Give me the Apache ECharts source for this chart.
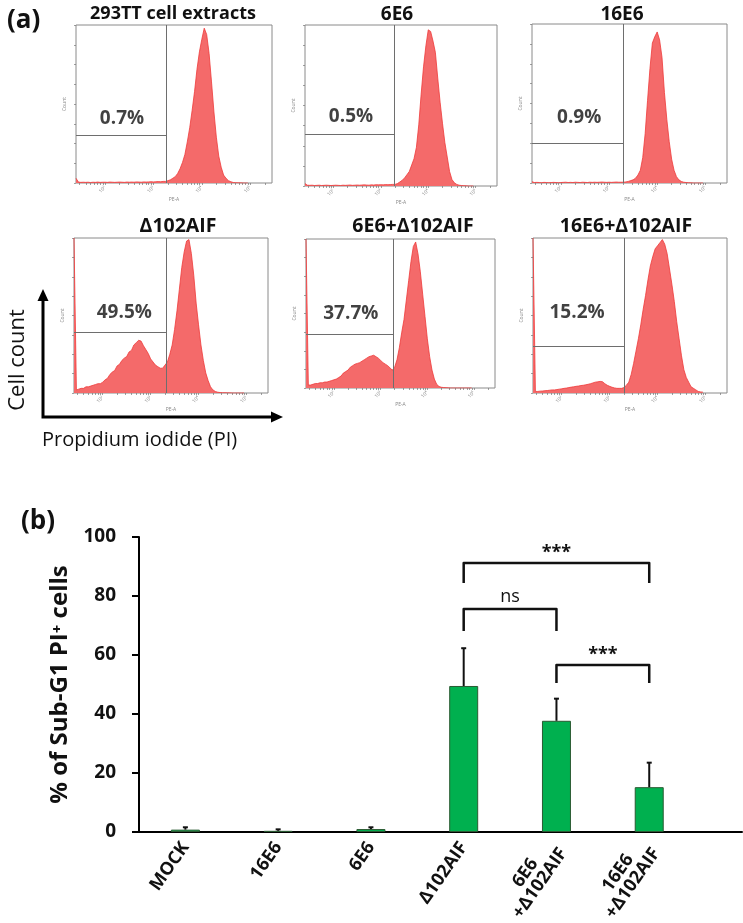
<!DOCTYPE html>
<html><head><meta charset="utf-8">
<script src="https://cdn.jsdelivr.net/npm/echarts@6/dist/echarts.min.js"></script>
<style>html,body{margin:0;padding:0;background:#fff}#c{width:743px;height:923px}</style>
</head><body><div id="c"></div><script>
// ---------- Panel (a): flow cytometry histograms ----------
const histTitles = ['293TT cell extracts', '6E6', '16E6', 'Δ102AIF', '6E6+Δ102AIF', '16E6+Δ102AIF'];
const histPercentLabels = ['0.7%', '0.5%', '0.9%', '49.5%', '37.7%', '15.2%'];
// bin centres, log10(PE-A)
const binX = [1.40,1.45,1.50,1.55,1.60,1.65,1.70,1.75,1.80,1.85,1.90,1.95,
  2.00,2.05,2.10,2.15,2.20,2.25,2.30,2.35,2.40,2.45,2.50,2.55,2.60,2.65,2.70,2.75,2.80,2.85,2.90,2.95,
  3.00,3.05,3.10,3.15,3.20,3.25,3.30,3.35,3.40,3.45,3.50,3.55,3.60,3.65,3.70,3.75,3.80,3.85,3.90,3.95,
  4.00,4.05,4.10,4.15,4.20,4.25,4.30,4.35,4.40,4.45,4.50,4.55,4.60,4.65,4.70,4.75,4.80,4.85,4.90,4.95];
// counts, % of panel height
const hist293TT = [3,0.6,0.4,0.5,0.4,0.5,0.3,0.5,0.4,0.6,0.4,0.5,
  0.5,0.4,0.6,0.5,0.4,0.5,0.6,0.5,0.4,0.6,0.5,0.6,0.5,0.7,0.6,0.5,0.7,0.6,0.7,0.8,
  0.7,0.8,0.9,0.8,1.0,1,1.5,2,3,4,6,9,13,18,26,35,46,58,72,83,
  91,98,94,82,64,45,29,17,10,5,3,1.5,0.8,0.3,0.2,0.1,0.1,0,0,0];
const hist6E6 = [1.5,0.5,0.4,0.5,0.3,0.4,0.5,0.3,0.4,0.5,0.4,0.3,
  0.4,0.5,0.4,0.3,0.5,0.4,0.5,0.6,0.4,0.5,0.6,0.5,0.6,0.7,0.6,0.5,0.7,0.6,0.8,0.7,
  0.8,0.7,0.9,0.8,0.9,1.0,1,1.5,2.5,3.5,5,7,9,13,17,24,38,57,74,87,
  97,96,90,83,67,52,39,27,18,9,4,2,1,0.5,0.3,0.2,0.1,0,0,0];
const hist16E6 = [0.8,0.3,0.4,0.3,0.2,0.4,0.3,0.2,0.3,0.4,0.3,0.2,
  0.3,0.4,0.5,0.3,0.4,0.3,0.5,0.4,0.3,0.5,0.4,0.3,0.5,0.4,0.5,0.4,0.5,0.6,0.5,0.4,
  0.5,0.4,0.5,0.6,0.5,0.5,0.5,0.7,1,1.5,2,3,5,8,16,31,52,72,88,92,
  95,90,79,57,40,26,15,8,4,2,1,0.5,0.3,0.2,0.1,0,0,0,0,0];
const histD102 = [100,2,2.5,3,3,4,4,4.5,5,5.5,6,6,
  7,8.5,9.5,12,13.5,14.5,17.5,18.5,21,22.5,23.5,26.5,27.5,31,32.5,34,33.5,30.5,28,25.5,
  22,20,18,17,16,16,18,20,25,31,41,53,67,81,91,98,99,90,76,58,
  44,31,21,13,8,4,2,1,0.5,0.3,0.2,0.2,0.1,0.1,0,0,0,0,0,0];
const hist6E6D102 = [100,2,2,2.5,3,3,3.5,3.5,4,4,4.5,5,
  5.5,6,7,8,10,11,12,14,15,16,16.5,17,18,19,20,21,21.5,22,21,20,
  18.5,17,16,15,13.5,12,14,19,27,37,46,59,72,85,95,98,90,78,63,48,
  33,21,12,6,2.5,1,0.5,0.3,0.2,0.1,0,0,0,0,0,0,0,0,0,0];
const hist16E6D102 = [100,1,1,1.2,1.3,1.5,1.6,1.8,2,2,2.2,2.5,
  2.7,3,3.2,3.5,3.8,4,4.3,4.5,4.8,5,5.3,5.6,6,6.5,7,7.2,7.5,7.3,6,5,
  4.3,3.7,3.3,3,3,3,3.5,5,7,12,19,27,35,44,54,63,73,82,88,93,
  95,97,99,96,90,80,70,59,46,35,24,15,10,7,4,3,2,1,0.7,0.5];
const gateX = [3.26, 3.28, 3.29, 3.32, 3.28, 3.30];
const gateY = [30, 32, 25, 39, 36, 30];
const pctLabelX = [2.35, 2.37, 2.38, 2.45, 2.36, 2.32];
const pctLabelY = [41, 43, 41, 52, 50, 52];
const decadeTicks = [2, 3, 4, 5];
const decadeLabels = ['10²', '10³', '10⁴', '10⁵'];

// ---------- Panel (b): bar chart ----------
const barCategories = ['MOCK', '16E6', '6E6', 'Δ102AIF', '6E6\n+Δ102AIF', '16E6\n+Δ102AIF'];
const barValues = [0.8, 0.4, 1.0, 49.5, 37.7, 15.2];
const barErrors = [0.8, 0.5, 0.6, 12.8, 7.5, 8.3];
const sigPairs = [[3, 5], [3, 4], [4, 5]];
const sigTop = [91.2, 75.6, 56.6];
const sigLeg = [84.4, 68.1, 50.5];
const sigLabels = ['***', 'ns', '***'];

const FONT = '"Open Sans", "Liberation Sans", sans-serif';
const CAT_FONT_SIZE = 18;
const histData = [hist293TT, hist6E6, hist16E6, histD102, hist6E6D102, hist16E6D102];
const histBoxes = [
  {left: 76, top: 25, width: 196, height: 158},
  {left: 305, top: 25, width: 192, height: 161},
  {left: 532, top: 24, width: 195, height: 159},
  {left: 74, top: 238, width: 194, height: 155},
  {left: 306, top: 239, width: 189, height: 149},
  {left: 533, top: 238, width: 194, height: 155}
];
const titleCenters = [[168, 0], [392, 0], [617, 0], [173, 211], [408, 211], [621, 211]];
const titleSizes = [18, 19, 19, 19.5, 19.5, 19.5];
const X_MIN = 1.4, X_MAX = 5.45;

const minorTicks = [];
for (let d = 1; d <= 5; d++) for (let k = 1; k <= 9; k++) {
  const t = d + Math.log10(k);
  if (t >= X_MIN && t <= X_MAX) minorTicks.push(t);
}

// width of longest line among multi-line category labels (for centred line alignment)
const mctx = document.createElement('canvas').getContext('2d');
mctx.font = 'bold ' + CAT_FONT_SIZE + 'px ' + FONT;
let lineW = 0;
barCategories.forEach(c => { if (c.indexOf('\n') >= 0) c.split('\n').forEach(l => { lineW = Math.max(lineW, mctx.measureText(l).width); }); });
lineW = Math.ceil(lineW) + 1;

const grids = [], xAxes = [], yAxes = [], series = [], titles = [];
histBoxes.forEach((b, i) => {
  grids.push(Object.assign({show: true, borderColor: '#8a8a8a', borderWidth: 1, backgroundColor: 'transparent',
    containLabel: false, outerBoundsMode: 'none'}, b));
  xAxes.push({
    type: 'value', gridIndex: i, min: X_MIN, max: X_MAX,
    axisLine: {show: false}, splitLine: {show: false},
    axisTick: {show: true, customValues: minorTicks, length: 2, lineStyle: {color: '#777', width: 0.7}},
    axisLabel: {show: true, customValues: decadeTicks, formatter: v => decadeLabels[decadeTicks.indexOf(Math.round(v))] || '',
      fontSize: 5, color: '#888', rotate: 45, margin: 4, fontFamily: FONT},
    name: 'PE-A', nameLocation: 'middle', nameGap: 14, nameTextStyle: {fontSize: 5, color: '#888', fontFamily: FONT}
  });
  yAxes.push({
    type: 'value', gridIndex: i, min: 0, max: 100, interval: 12.5,
    axisLine: {show: false, onZero: false}, splitLine: {show: false},
    axisTick: {show: true, length: 2, lineStyle: {color: '#777', width: 0.7}},
    axisLabel: {show: false},
    name: 'Count', nameLocation: 'middle', nameGap: 9, nameRotate: 90,
    nameTextStyle: {fontSize: 5, color: '#888', fontFamily: FONT}
  });
  series.push({
    type: 'line', xAxisIndex: i, yAxisIndex: i, showSymbol: false, symbol: 'none',
    data: binX.map((x, k) => [x, histData[i][k]]),
    lineStyle: {color: '#ef3a3a', width: 0.8},
    areaStyle: {color: '#f46a6a', opacity: 1},
    z: 2,
    markLine: {
      silent: true, symbol: 'none', label: {show: false}, animation: false,
      lineStyle: {color: '#6e6e6e', width: 1, type: 'solid'},
      data: [
        [{coord: [X_MIN, gateY[i]]}, {coord: [gateX[i], gateY[i]]}],
        [{coord: [gateX[i], 0]}, {coord: [gateX[i], 100]}]
      ]
    }
  });
  series.push({
    type: 'scatter', xAxisIndex: i, yAxisIndex: i, symbolSize: 1,
    itemStyle: {color: 'rgba(0,0,0,0)'},
    data: [[pctLabelX[i], pctLabelY[i]]],
    label: {show: true, position: 'inside', formatter: () => histPercentLabels[i],
      fontFamily: FONT, fontWeight: 'bold', fontSize: 19, color: '#111'},
    z: 5
  });
  titles.push({text: histTitles[i], left: titleCenters[i][0], top: titleCenters[i][1], textAlign: 'center',
    textStyle: {fontFamily: FONT, fontWeight: 'bold', fontSize: titleSizes[i], color: '#111'}});
});

// panel (b)
const gb = 6;
grids.push({left: 139, right: 1, top: 537, bottom: 91, show: false, containLabel: false, outerBoundsMode: 'none'});
xAxes.push({
  type: 'value', gridIndex: gb, min: -0.5, max: 6,
  axisLine: {show: true, onZero: false, lineStyle: {color: '#000', width: 2}},
  axisTick: {show: false}, splitLine: {show: false},
  axisLabel: {show: true, customValues: [0, 1, 2, 3, 4, 5],
    formatter: v => {
      const s = barCategories[Math.round(v)];
      if (s.indexOf('\n') < 0) return s;
      return s.split('\n').map(l => '{c|' + l + '}').join('\n');
    },
    rich: {c: {width: lineW, align: 'center', fontFamily: FONT, fontWeight: 'bold', fontSize: CAT_FONT_SIZE, lineHeight: 18, color: '#111'}},
    rotate: 55, margin: 12, fontFamily: FONT, fontWeight: 'bold', fontSize: CAT_FONT_SIZE, lineHeight: 18, color: '#111'}
});
yAxes.push({
  type: 'value', gridIndex: gb, min: 0, max: 100, interval: 20,
  axisLine: {show: true, onZero: false, lineStyle: {color: '#000', width: 2}},
  axisTick: {show: true, inside: false, length: 7, lineStyle: {color: '#000', width: 2}},
  splitLine: {show: false},
  axisLabel: {margin: 23, fontFamily: FONT, fontWeight: 'bold', fontSize: 19, color: '#111'},
  name: '% of Sub-G1 PI⁺ cells', nameLocation: 'middle', nameGap: 66, nameRotate: 90,
  nameTextStyle: {fontFamily: FONT, fontWeight: 'bold', fontSize: 24, color: '#111'}
});
series.push({
  type: 'bar', xAxisIndex: gb, yAxisIndex: gb, barWidth: 29,
  data: barValues.map((v, i) => [i, v]),
  itemStyle: {color: '#00b04f', borderColor: '#2a5a32', borderWidth: 1},
  z: 2
});
series.push({
  type: 'custom', xAxisIndex: gb, yAxisIndex: gb, z: 4,
  data: barValues.map((v, i) => [i, v, barErrors[i]]),
  encode: {x: 0, y: 1},
  renderItem: (params, api) => {
    const x = api.value(0), v = api.value(1), e = api.value(2);
    const p0 = api.coord([x, v]), p1 = api.coord([x, v + e]);
    return {type: 'group', children: [
      {type: 'line', shape: {x1: p0[0], y1: p0[1], x2: p1[0], y2: p1[1]}, style: {stroke: '#111', lineWidth: 2}},
      {type: 'line', shape: {x1: p1[0] - 2.5, y1: p1[1], x2: p1[0] + 2.5, y2: p1[1]}, style: {stroke: '#111', lineWidth: 2}}
    ]};
  }
});
series.push({
  type: 'custom', xAxisIndex: gb, yAxisIndex: gb, z: 4,
  data: sigPairs.map((p, i) => [p[0], p[1], sigTop[i], sigLeg[i]]),
  encode: {x: [0, 1], y: [2, 3]},
  renderItem: (params, api) => {
    const i = params.dataIndex;
    const a = api.coord([api.value(0), api.value(2)]);
    const b = api.coord([api.value(1), api.value(2)]);
    const la = api.coord([api.value(0), api.value(3)]);
    const lb = api.coord([api.value(1), api.value(3)]);
    const isStar = sigLabels[i] === '***';
    return {type: 'group', children: [
      {type: 'polyline', shape: {points: [[la[0], la[1]], [a[0], a[1]], [b[0], b[1]], [lb[0], lb[1]]]},
        style: {stroke: '#111', lineWidth: 2.5, fill: null, lineJoin: 'round'}},
      {type: 'text', x: (a[0] + b[0]) / 2, y: a[1] - (isStar ? 10 : 12),
        style: {text: sigLabels[i], align: 'center', verticalAlign: 'middle',
          font: (isStar ? 'bold 18px ' : '18px ') + FONT, fill: '#111'}}
    ]};
  }
});

titles.push({text: '(a)', left: 2, top: 3, textStyle: {fontFamily: FONT, fontWeight: 'bold', fontSize: 26, color: '#111'}});
titles.push({text: '(b)', left: 16, top: 504, textStyle: {fontFamily: FONT, fontWeight: 'bold', fontSize: 26, color: '#111'}});

const option = {
  animation: false,
  backgroundColor: '#fff',
  title: titles,
  grid: grids,
  xAxis: xAxes,
  yAxis: yAxes,
  series: series,
  graphic: [
    {type: 'polyline', shape: {points: [[43, 298], [43, 417], [272, 417]]}, style: {stroke: '#000', lineWidth: 3, fill: null}},
    {type: 'polygon', shape: {points: [[43, 289], [37.5, 301], [48.5, 301]]}, style: {fill: '#000'}},
    {type: 'polygon', shape: {points: [[283, 417], [271, 411.5], [271, 422.5]]}, style: {fill: '#000'}},
    {type: 'text', x: 18, y: 360, rotation: Math.PI / 2,
      style: {text: 'Cell count', font: '22px ' + FONT, fill: '#111', align: 'center', verticalAlign: 'middle'}},
    {type: 'text', x: 42, y: 440,
      style: {text: 'Propidium iodide (PI)', font: '20px ' + FONT, fill: '#111', align: 'left', verticalAlign: 'middle'}}
  ]
};
const chart = echarts.init(document.getElementById('c'), null, {renderer: 'canvas'});
chart.setOption(option);
</script></body></html>
